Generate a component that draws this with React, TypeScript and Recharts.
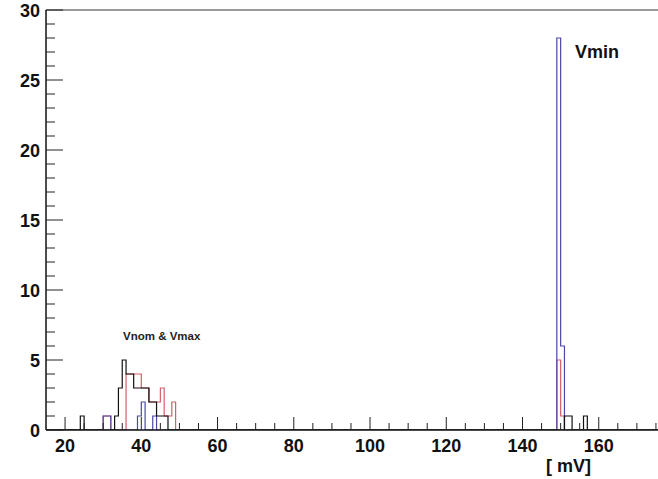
import { ComposedChart, Line, XAxis, YAxis, ReferenceLine } from 'recharts';

// histogram bins are 1 mV wide, labelled by their lower edge
const binStart = 15;
const binEnd = 180;

const vnomBins = [24, 33, 34, 35, 36, 37, 38, 39, 40, 41, 42, 43, 44, 45, 46, 151, 152, 156];
const vnomCounts = [1, 1, 3, 5, 4, 4, 3, 3, 3, 3, 2, 2, 1, 1, 1, 1, 1, 1];

const vmaxBins = [30, 31, 36, 37, 38, 39, 40, 41, 42, 43, 44, 45, 46, 47, 48, 149, 150];
const vmaxCounts = [1, 1, 4, 4, 4, 4, 3, 3, 2, 2, 2, 3, 1, 1, 2, 5, 1];

const vminBins = [30, 31, 39, 40, 43, 149, 150];
const vminCounts = [1, 1, 1, 2, 1, 28, 6];

const xTicks = [20, 25, 30, 35, 40, 45, 50, 55, 60, 65, 70, 75, 80, 85, 90, 95, 100, 105, 110, 115, 120, 125, 130, 135, 140, 145, 150, 155, 160, 165, 170, 175];
const xLabels = [20, 40, 60, 80, 100, 120, 140, 160];
const yTicks = [0, 1, 2, 3, 4, 5, 6, 7, 8, 9, 10, 11, 12, 13, 14, 15, 16, 17, 18, 19, 20, 21, 22, 23, 24, 25, 26, 27, 28, 29, 30];
const yLabels = [0, 5, 10, 15, 20, 25, 30];

const FONT = '"Liberation Sans", Arial, Helvetica, sans-serif';

function countAt(bins: number[], counts: number[], x: number) {
  const i = bins.indexOf(x);
  return i < 0 ? 0 : counts[i];
}

const data: { x: number; vnom: number; vmax: number; vmin: number }[] = [];
for (let x = binStart; x <= binEnd; x++) {
  data.push({
    x,
    vnom: countAt(vnomBins, vnomCounts, x),
    vmax: countAt(vmaxBins, vmaxCounts, x),
    vmin: countAt(vminBins, vminCounts, x),
  });
}

function XTick(props: any) {
  const { x, y, payload } = props;
  const major = xLabels.includes(payload.value);
  return (
    <g>
      <line x1={x} x2={x} y1={y} y2={y - (major ? 13 : 7)} stroke="#222" strokeWidth={1} />
      {major && (
        <text x={x} y={y + 22} textAnchor="middle" fontSize={18} fontWeight="bold" fontFamily={FONT} fill="#111">
          {payload.value}
        </text>
      )}
    </g>
  );
}

function YTick(props: any) {
  const { x, y, payload } = props;
  const major = yLabels.includes(payload.value);
  return (
    <g>
      <line x1={x} x2={x + (major ? 17 : 9)} y1={y} y2={y} stroke="#222" strokeWidth={1} />
      {major && (
        <text x={x - 6} y={y + 6.5} textAnchor="end" fontSize={18} fontWeight="bold" fontFamily={FONT} fill="#111">
          {payload.value}
        </text>
      )}
    </g>
  );
}

export default function App() {
  return (
    <div style={{ position: 'fixed', left: 0, top: 0, width: 658, height: 479, overflow: 'hidden', background: '#fff' }}>
      <ComposedChart width={700} height={479} data={data} margin={{ top: 10, right: 25, left: 0, bottom: 0 }}>
        <XAxis
          dataKey="x"
          type="number"
          domain={[binStart, binEnd]}
          ticks={xTicks}
          interval={0}
          tickSize={0}
          tickMargin={0}
          tick={<XTick />}
          height={49}
          axisLine={{ stroke: '#111', strokeWidth: 1.5 }}
          allowDataOverflow
        />
        <YAxis
          type="number"
          domain={[0, 30]}
          ticks={yTicks}
          interval={0}
          tickSize={0}
          tickMargin={0}
          tick={<YTick />}
          width={46}
          axisLine={{ stroke: '#111', strokeWidth: 1.5 }}
          allowDataOverflow
        />
        <ReferenceLine y={30} stroke="#777" strokeWidth={1.5} />
        <Line type="stepAfter" dataKey="vmax" stroke="#d35f6a" strokeWidth={1.2} dot={false} isAnimationActive={false} />
        <Line type="stepAfter" dataKey="vmin" stroke="#4a4aa6" strokeWidth={1.2} dot={false} isAnimationActive={false} />
        <Line type="stepAfter" dataKey="vnom" stroke="#111111" strokeWidth={1.2} dot={false} isAnimationActive={false} />
      </ComposedChart>
      <svg width={658} height={479} style={{ position: 'absolute', left: 0, top: 0, pointerEvents: 'none' }}>
        <text x={575} y={58} fontSize={18} fontWeight="bold" fontFamily={FONT} fill="#111">Vmin</text>
        <text x={123} y={339.5} fontSize={11.5} fontWeight="bold" fontFamily={FONT} fill="#222">Vnom &amp; Vmax</text>
        <text x={546} y={472} fontSize={18} fontWeight="bold" fontFamily={FONT} fill="#111">[ mV]</text>
      </svg>
    </div>
  );
}
